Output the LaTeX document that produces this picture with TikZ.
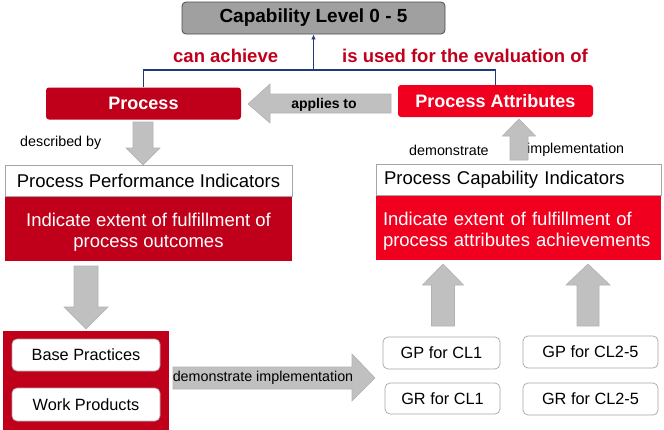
\documentclass[tikz,border=0pt]{standalone}
\usepackage{fontspec}
\setmainfont{Liberation Sans}
\usepackage{xcolor}
\usetikzlibrary{arrows.meta,positioning,calc}

\definecolor{procred}{HTML}{C0001A}
\definecolor{attrred}{HTML}{F0001E}
\definecolor{navyline}{HTML}{1F3A78}
\definecolor{levelgray}{HTML}{A0A0A0}
\definecolor{arrowgray}{HTML}{C0C0C0}

\begin{document}
\begin{tikzpicture}[
  x=1pt, y=-1pt,
  levelbox/.style={draw=gray!60!black, fill=levelgray, rounded corners=4pt, line width=0.8pt, minimum width=263pt, minimum height=32pt, inner sep=0pt, font=\fontsize{19}{22}\selectfont\bfseries},
  redbox/.style={fill=#1, rounded corners=3pt, minimum width=195pt, minimum height=32pt, inner sep=0pt, text=white, font=\fontsize{18}{21}\selectfont\bfseries},
  headbox/.style={draw=gray!70, fill=white, line width=0.8pt, minimum width=287pt, minimum height=31pt, inner sep=0pt, font=\fontsize{18.5}{21}\selectfont},
  bodybox/.style={fill=#1, minimum width=287pt, minimum height=64pt, inner sep=0pt, text=white, font=\fontsize{18.5}{21}\selectfont},
  itembox/.style={draw=gray!70, fill=white, rounded corners=5pt, line width=0.7pt, minimum height=32pt, inner sep=0pt, font=\fontsize{16.3}{19}\selectfont},
  relation/.style={text=procred, font=\fontsize{18.5}{21}\selectfont\bfseries},
  plain/.style={font=\fontsize{14.3}{17}\selectfont, inner sep=0pt},
  blockarrow/.style={draw=gray!60, fill=arrowgray, line width=0.6pt, line join=miter},
  link/.style={draw=navyline, line width=1.8pt}
]
  \clip (0,0) rectangle (664,429);
  \useasboundingbox (0,0) rectangle (664,429);

  % top level
  \node[levelbox] (level) at (313.5,18) {Capability Level 0 - 5};
  \node[redbox=procred] (proc) at (143.5,103.5) {Process};
  \node[redbox=attrred] (attr) at (495.5,101) {Process Attributes};
  \node[relation, anchor=west, inner sep=0pt] (achieve) at (173,56) {can achieve};
  \node[relation, anchor=west, inner sep=0pt] (evaluate) at (342,56) {is used for the evaluation of};

  \draw[link] (proc.north) -- ++(0,-17) -| (attr.north);
  \coordinate (hub) at (313.5,70);
  \draw[link, -{Latex[length=5pt,width=4.5pt]}] (hub) -- (level.south);

  % applies to
  \draw[blockarrow] (391,94) -- (270,94) -- (270,84) -- (248,104) -- (270,123) -- (270,113) -- (391,113) -- cycle;
  \node[plain, font=\fontsize{14}{17}\selectfont\bfseries] (applies) at (324,105) {applies to};

  % indicators
  \node[headbox] (ppihead) at (148.5,181) {Process Performance Indicators};
  \node[bodybox=procred, align=center] (ppibody) at (148.5,228.5) {\rule{0pt}{20pt}Indicate extent of fulfillment of\\process outcomes};
  \node[headbox, minimum width=285pt, text width=269pt, align=left] (pcihead) at (518.5,180) {Process Capability Indicators};
  \node[bodybox=attrred, minimum width=285pt, minimum height=64pt, text width=271pt, align=left] (pcibody) at (518.5,228) {\rule{0pt}{20pt}Indicate extent of fulfillment of\\process attributes achievements};
  \node[plain, anchor=west] (described) at (20,143) {described by};
  \node[plain, anchor=west] (demo) at (409,150) {demonstrate};
  \node[plain, anchor=west] (impl) at (527,150) {implementation};

  % vertical block arrows: x, tip, head base, tail, head half width, body half width
  \foreach \cx/\ty/\yb/\yt/\hw/\bw in {
    143/165/148/122/17/10,
    86/329/307/266/22/12,
    519/119/136/160/16.5/9,
    443/264/285/326/20.5/11.5,
    588/264/285/326/22/11
  } {
    \draw[blockarrow] (\cx-\bw,\yt) -- (\cx-\bw,\yb) -- (\cx-\hw,\yb) -- (\cx,\ty) -- (\cx+\hw,\yb) -- (\cx+\bw,\yb) -- (\cx+\bw,\yt) -- cycle;
  }

  % practices and products
  \fill[procred] (3,331) rectangle (169,432);
  \node[itembox, minimum width=148pt] (bp) at (86,355) {Base Practices};
  \node[itembox, minimum width=148pt, minimum height=33pt] (wp) at (86,404.5) {Work Products};

  \draw[blockarrow] (173,367) -- (352,367) -- (352,354) -- (375,378) -- (352,401) -- (352,389) -- (173,389) -- cycle;
  \node[plain] (demoimpl) at (263,378) {demonstrate implementation};

  % generic practices and resources
  \node[itembox, minimum width=117pt] (gp1) at (441.5,353) {GP for CL1};
  \node[itembox, minimum width=135pt] (gp2) at (590.5,352) {GP for CL2-5};
  \node[itembox, minimum width=115pt, minimum height=31pt] (gr1) at (442.5,398.5) {GR for CL1};
  \node[itembox, minimum width=135pt] (gr2) at (590.5,399) {GR for CL2-5};
\end{tikzpicture}
\end{document}
